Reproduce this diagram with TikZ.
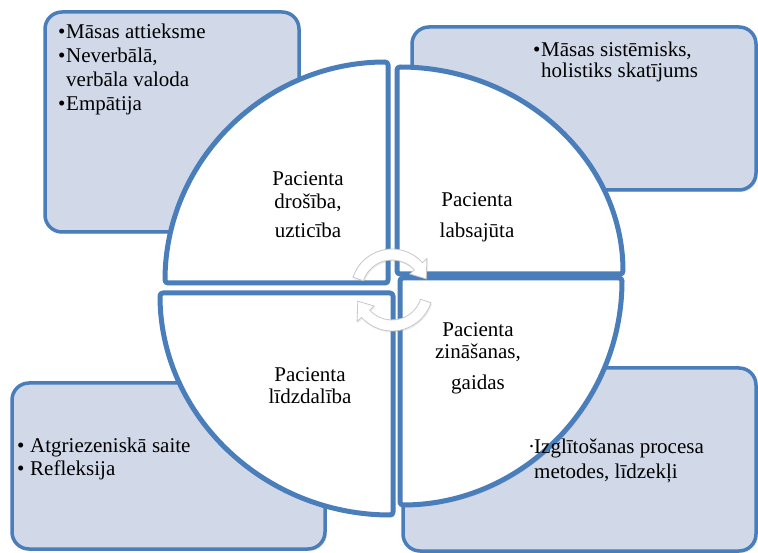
\documentclass[tikz,border=0pt]{standalone}
\usepackage{fontspec}
\setmainfont{Liberation Serif}
\usetikzlibrary{shadows}
\definecolor{boxfill}{RGB}{209,217,233}
\definecolor{edgeblue}{RGB}{74,126,187}
\newcommand{\bul}{\makebox[8pt][l]{•}}
\newcommand{\bulw}{\makebox[13pt][l]{•}}
\newcommand{\nob}{\hspace*{8pt}}
\tikzset{
  sidebox/.style={draw=edgeblue, line width=3.5pt, fill=boxfill, rounded corners=17pt,
    drop shadow={opacity=0.18, shadow xshift=2pt, shadow yshift=-2pt}},
  quad/.style={draw=edgeblue, line width=5pt, fill=white, rounded corners=3pt, line join=round,
    drop shadow={opacity=0.2, shadow xshift=2pt, shadow yshift=-2.5pt}},
  qlabel/.style={align=center, font=\fontsize{21}{23}\selectfont, inner sep=0pt},
  blabel/.style={align=left, font=\fontsize{21}{24}\selectfont, inner sep=0pt, anchor=west},
  cyc/.style={fill=white, draw=black!22, line width=0.8pt,
    drop shadow={opacity=0.15, shadow xshift=1pt, shadow yshift=-1.5pt}}
}
\begin{document}
\begin{tikzpicture}[x=1pt, y=-1pt]
\useasboundingbox (0,0) rectangle (758,553);
% side boxes
\draw[sidebox] (45,12) rectangle (299,232);
\draw[sidebox] (412,27) rectangle (756,190);
\draw[sidebox] (12,383) rectangle (325,549);
\draw[sidebox] (403,368) rectangle (756,551);
% quadrants
\draw[quad] (388,283) -- (165,283) arc[start angle=180, end angle=270, x radius=223, y radius=221] -- cycle;
\draw[quad] (397,274) -- (397,67) arc[start angle=270, end angle=360, x radius=226, y radius=207] -- cycle;
\draw[quad] (400,278) -- (622,278) arc[start angle=0, end angle=90, x radius=222, y radius=227] -- cycle;
\draw[quad] (393,293) -- (393,515) arc[start angle=90, end angle=180, x radius=233, y radius=222] -- cycle;
% quadrant labels
\node[qlabel] (qtl) at (308,205) {Pacienta\\drošība,\\[6pt]uzticība};
\node[qlabel] (qtr) at (477,217) {Pacienta\\[8pt]labsajūta};
\node[qlabel] (qbr) at (478,358) {Pacienta\\[-1pt]zināšanas,\\[8pt]gaidas};
\node[qlabel] (qbl) at (310,386) {Pacienta\\[-1pt]līdzdalība};
% box labels
\node[blabel] (btl) at (58,69) {\bul Māsas attieksme\\\bul Neverbālā,\\\nob verbāla valoda\\\bul Empātija};
\node[blabel, font=\fontsize{21}{21}\selectfont] (btr) at (533,62) {\bul Māsas sistēmisks,\\\nob holistiks skatījums};
\node[blabel, font=\fontsize{21}{23}\selectfont] (bbl) at (17,459) {\bulw Atgriezeniskā saite\\\bulw Refleksija};
\node[blabel, font=\fontsize{21}{25}\selectfont] (bbr) at (528,461) {\makebox[6pt][l]{·}Izglītošanas procesa\\\hspace*{6pt}metodes, līdzekļi};
% central cycle arrows
\begin{scope}[shift={(392,290)}, yscale=-1]
\path[cyc] (162:41) arc[start angle=162, end angle=42, radius=41] -- (42:47) -- (18:36) -- (42:24) -- (42:30) arc[start angle=42, end angle=162, radius=30] -- cycle;
\path[cyc] (-18:41) arc[start angle=-18, end angle=-138, radius=41] -- (-138:47) -- (-162:36) -- (-138:24) -- (-138:30) arc[start angle=-138, end angle=-18, radius=30] -- cycle;
\end{scope}
\end{tikzpicture}
\end{document}
